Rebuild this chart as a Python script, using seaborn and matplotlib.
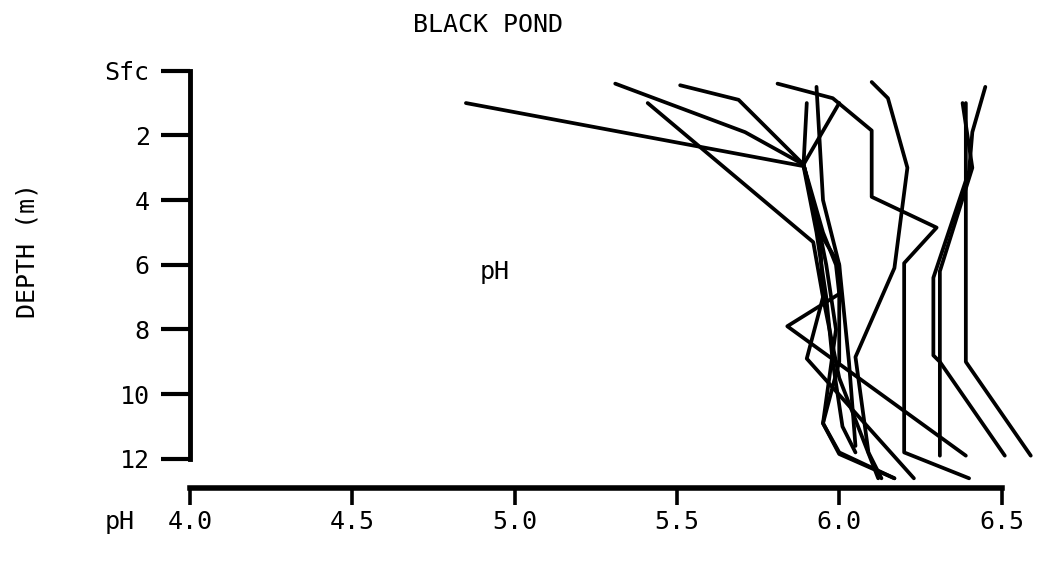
import matplotlib
matplotlib.use("Agg")
import matplotlib.pyplot as plt
import seaborn as sns
import pandas as pd

# ---- data: pH profiles (depth in m, pH) ----
profile_ids = ["P1", "P2", "P3", "P4", "P5", "P6", "P7", "P8", "P9", "P10", "P11", "P12"]
depths = {
    "P1":  [1.0, 2.95, 5.0, 7.0, 9.0, 11.0, 11.8],
    "P2":  [0.4, 1.9, 2.9, 4.5, 6.0, 8.0, 10.9, 11.85, 12.6],
    "P3":  [1.0, 5.3, 7.0, 9.5, 12.6],
    "P4":  [0.45, 0.9, 2.9, 5.0, 7.0, 8.9, 12.6],
    "P5":  [0.4, 0.85, 1.85, 3.9, 4.85, 5.95, 11.8, 12.6],
    "P6":  [0.5, 4.0, 6.0, 9.0, 11.6],
    "P7":  [1.0, 2.9, 5.0, 6.0, 6.9, 7.9, 11.9],
    "P8":  [1.0, 2.9, 5.0, 6.0, 9.0, 10.9, 11.8, 12.6],
    "P9":  [0.35, 0.85, 3.0, 6.1, 8.85, 11.8, 12.6],
    "P10": [1.0, 3.0, 9.0, 11.9],
    "P11": [1.0, 3.0, 6.2, 11.9],
    "P12": [0.5, 1.9, 3.1, 6.4, 8.8, 9.0, 11.9],
}
ph_values = {
    "P1":  [4.85, 5.89, 5.93, 5.96, 5.98, 6.01, 6.05],
    "P2":  [5.31, 5.71, 5.89, 5.93, 5.96, 5.99, 5.95, 6.00, 6.17],
    "P3":  [5.41, 5.92, 5.95, 6.00, 6.12],
    "P4":  [5.51, 5.69, 5.89, 5.94, 5.95, 5.90, 6.23],
    "P5":  [5.81, 5.98, 6.10, 6.10, 6.30, 6.20, 6.20, 6.40],
    "P6":  [5.93, 5.95, 6.00, 6.03, 6.05],
    "P7":  [5.90, 5.89, 5.95, 5.99, 6.00, 5.84, 6.39],
    "P8":  [6.00, 5.89, 5.94, 6.00, 6.00, 5.95, 6.00, 6.17],
    "P9":  [6.10, 6.15, 6.21, 6.17, 6.05, 6.09, 6.13],
    "P10": [6.39, 6.39, 6.39, 6.59],
    "P11": [6.38, 6.41, 6.31, 6.31],
    "P12": [6.45, 6.41, 6.40, 6.29, 6.29, 6.31, 6.51],
}

depth_ticks = [0, 2, 4, 6, 8, 10, 12]
depth_ticklabels = ["Sfc", "2", "4", "6", "8", "10", "12"]
ph_ticks = [4.0, 4.5, 5.0, 5.5, 6.0, 6.5]
ph_ticklabels = ["4.0", "4.5", "5.0", "5.5", "6.0", "6.5"]

rows = []
for pid in profile_ids:
    for d, p in zip(depths[pid], ph_values[pid]):
        rows.append({"profile": pid, "depth": d, "pH": p})
df = pd.DataFrame(rows)

# ---- figure ----
sns.set_theme(style="white")
plt.rcParams["font.family"] = ["DejaVu Sans Mono", "DejaVu Sans"]
plt.rcParams["text.color"] = "black"
plt.rcParams["xtick.color"] = "black"
plt.rcParams["ytick.color"] = "black"

W, H = 1037, 574
FS = 18
fig = plt.figure(figsize=(W / 100, H / 100), dpi=100)
# axes: pH 4.0 at x=190 px, 6.6 at x=1034 px ; depth -0.3 at y=61 px, 12.9 at y=488 px
ax = fig.add_axes([190 / W, 1 - 488 / H, (1034 - 190) / W, (488 - 61) / H])

sns.lineplot(data=df, x="pH", y="depth", units="profile", estimator=None,
             sort=False, color="black", lw=2.7, ax=ax, legend=False)

ax.set_xlim(4.0, 6.6)
ax.set_ylim(12.9, -0.3)

for s in ["top", "right"]:
    ax.spines[s].set_visible(False)
ax.spines["left"].set_bounds(0, 12)
ax.spines["bottom"].set_bounds(4.0, 6.5)
ax.spines["left"].set_linewidth(3.5)
ax.spines["bottom"].set_linewidth(4.0)
ax.spines["left"].set_color("black")
ax.spines["bottom"].set_color("black")

ax.set_yticks(depth_ticks)
ax.set_yticklabels(depth_ticklabels)
ax.set_xticks(ph_ticks)
ax.set_xticklabels(ph_ticklabels)
ax.tick_params(axis="y", direction="out", length=21, width=3, color="black",
               labelcolor="black", pad=8, labelsize=FS, left=True)
ax.tick_params(axis="x", direction="out", length=12, width=2.6, color="black",
               labelcolor="black", pad=4, labelsize=FS, bottom=True)
ax.set_xlabel("")
ax.set_ylabel("")
ax.grid(False)

fig.text(488 / W, 1 - 25 / H, "BLACK POND", ha="center", va="center", fontsize=FS)
fig.text(495 / W, 1 - 272 / H, "pH", ha="center", va="center", fontsize=FS)
fig.text(28 / W, 1 - 250 / H, "DEPTH (m)", ha="center", va="center",
         rotation=90, fontsize=FS)
fig.text(120 / W, 1 - 522 / H, "pH", ha="center", va="center", fontsize=FS)

fig.savefig("out.png", dpi=100, facecolor="white")
